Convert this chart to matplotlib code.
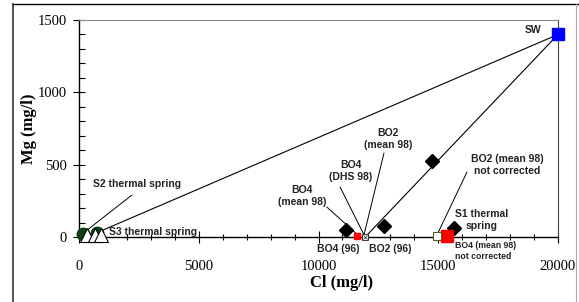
import matplotlib
matplotlib.use("Agg")
import matplotlib.pyplot as plt
from matplotlib.lines import Line2D
from matplotlib.ticker import MultipleLocator

# data (Cl, Mg in mg/l)
sw_cl, sw_mg = [20000], [1400]
dia_cl = [11150, 12750, 14750, 15650]
dia_mg = [50, 75, 525, 60]
red_small_cl, red_small_mg = [11600], [10]
red_big_cl, red_big_mg = [15350], [5]
cross_cl, cross_mg = [11950], [0]
open_cl, open_mg = [14950], [5]
green_cl = [170, 750]
green_mg = [22, 30]
tri_cl = [330, 650, 900]
tri_mg = [15, 15, 15]
mix1_cl, mix1_mg = [20000, 750], [1400, 30]
mix2_cl, mix2_mg = [20000, 11950], [1400, 0]

W, H = 579, 302
fig = plt.figure(figsize=(W / 100, H / 100), dpi=100)
ax = fig.add_axes([79 / W, 1 - 237 / H, (558 - 79) / W, (237 - 20) / H])

# outer frame
fig.add_artist(Line2D([13 / W, 13 / W], [0, 1 - 4 / H], color="#333333", lw=1.2))
fig.add_artist(Line2D([13 / W, 1], [1 - 4 / H, 1 - 4 / H], color="black", lw=1.0))
fig.add_artist(Line2D([576 / W, 576 / W], [0, 1 - 4 / H], color="#aaaaaa", lw=0.8))

ax.plot(mix1_cl, mix1_mg, color="black", lw=0.8, zorder=2)
ax.plot(mix2_cl, mix2_mg, color="black", lw=0.8, zorder=2)

kw = dict(linestyle="none", clip_on=False, zorder=4)
ax.plot(green_cl, green_mg, marker="o", ms=9, mfc="#0d3f12", mec="#0d3f12", **kw)
ax.plot(tri_cl, tri_mg, marker="^", ms=9.5, mfc="white", mec="black", mew=0.8, **kw)
ax.plot(dia_cl, dia_mg, marker="D", ms=7, mfc="black", mec="black", **kw)
ax.plot(sw_cl, sw_mg, marker="s", ms=8, mfc="#0000ff", mec="#0000ff", **kw)
ax.plot(red_small_cl, red_small_mg, marker="s", ms=5, mfc="#ff0000", mec="#ff0000", **kw)
ax.plot(red_big_cl, red_big_mg, marker="s", ms=8.5, mfc="#ff0000", mec="#ff0000", **kw)
ax.plot(cross_cl, cross_mg, marker="s", ms=5, mfc="white", mec="#333333", mew=0.7, **kw)
ax.plot(cross_cl, cross_mg, marker="x", ms=3.5, mec="#333333", mew=0.6, **kw)
ax.plot(open_cl, open_mg, marker="s", ms=5.5, mfc="white", mec="#5a5a20", mew=0.8, **kw)

ax.set_xlim(0, 20000)
ax.set_ylim(0, 1500)
ax.xaxis.set_major_locator(MultipleLocator(5000))
ax.xaxis.set_minor_locator(MultipleLocator(1000))
ax.yaxis.set_major_locator(MultipleLocator(500))
ax.yaxis.set_minor_locator(MultipleLocator(100))
ax.tick_params(axis="x", which="major", direction="inout", length=9, width=0.8, pad=12)
ax.tick_params(axis="x", which="minor", direction="inout", length=5, width=0.8)
ax.tick_params(axis="y", which="major", direction="inout", length=9, width=0.8, pad=4)
ax.tick_params(axis="y", which="minor", direction="in", length=4, width=0.8)
for lab in ax.get_xticklabels() + ax.get_yticklabels():
    lab.set_fontfamily("Liberation Serif")
    lab.set_fontsize(10.5)

ax.spines["top"].set_color("#888888")
ax.spines["right"].set_color("#444444")
ax.spines["left"].set_linewidth(1.0)
ax.spines["bottom"].set_linewidth(1.0)

ax.set_xlabel("Cl (mg/l)", fontfamily="Liberation Serif", fontweight="bold", fontsize=12)
ax.set_ylabel("Mg (mg/l)", fontfamily="Liberation Serif", fontweight="bold", fontsize=12)
# label anchors: top edge of the x label, right edge of the y label
ax.xaxis.set_label_coords((342 - 79) / 479, -(275 - 237) / 217)
ax.yaxis.set_label_coords(-(79 - 37) / 479, 0.5)

tk = dict(fontfamily="Liberation Sans", fontweight="bold", fontsize=7.5,
          color="#222222", clip_on=False, zorder=5)
ax.text(18950, 1431, "SW", ha="center", va="center", **tk)
ax.text(2420, 366, "S2 thermal spring", ha="center", va="center", **tk)
ax.text(1250, 35, "S3 thermal spring", ha="left", va="center", **tk)
ax.text(9310, 283, "BO4\n(mean 98)", ha="center", va="center", linespacing=1.25, **tk)
ax.text(11360, 456, "BO4\n(DHS 98)", ha="center", va="center", linespacing=1.25, **tk)
ax.text(12900, 677, "BO2\n(mean 98)", ha="center", va="center", linespacing=1.25, **tk)
ax.text(17870, 498, "BO2 (mean 98)\nnot corrected", ha="center", va="center",
        linespacing=1.25, **tk)
ax.text(16830, 118, "S1 thermal\nspring", ha="center", va="center", linespacing=1.25, **tk)
ax.text(10810, -83, "BO4 (96)", ha="center", va="center", **tk)
ax.text(12990, -83, "BO2 (96)", ha="center", va="center", **tk)
tk_small = dict(tk, fontsize=6.3)
ax.text(15700, -97, "BO4 (mean 98)\nnot corrected", ha="left", va="center",
        linespacing=1.4, **tk_small)

lead = dict(arrowstyle="-", lw=0.7, color="black", shrinkA=0, shrinkB=0)
ax.annotate("", xy=(green_cl[0] + 200, green_mg[0] + 30), xytext=(2210, 290), arrowprops=lead)
ax.annotate("", xy=(red_small_cl[0], red_small_mg[0] + 10), xytext=(10350, 207), arrowprops=lead)
ax.annotate("", xy=(cross_cl[0] - 50, cross_mg[0] + 15), xytext=(10900, 346), arrowprops=lead)
ax.annotate("", xy=(cross_cl[0] - 50, cross_mg[0] + 15), xytext=(12735, 581), arrowprops=lead)
ax.annotate("", xy=(open_cl[0], open_mg[0] + 10), xytext=(16200, 449), arrowprops=lead)

fig.savefig("out.png", dpi=100)
